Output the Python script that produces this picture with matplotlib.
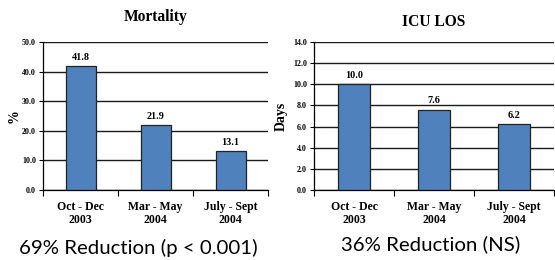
import matplotlib.pyplot as plt
import numpy as np

periods = ["Oct - Dec\n2003", "Mar - May\n2004", "July - Sept\n2004"]
mortality = [41.8, 21.9, 13.1]
icu_los = [10.0, 7.6, 6.2]
mort_ticks = [0, 10, 20, 30, 40, 50]
los_ticks = [0, 2, 4, 6, 8, 10, 12, 14]

SERIF = "Liberation Serif"
BAR_COLOR = "#4F81BD"

fig = plt.figure(figsize=(5.55, 2.6), dpi=100)


def draw_panel(rect, values, ticks, title, ylabel, caption, ylabel_x, caption_xy, title_y):
    ax = fig.add_axes(rect)
    x = np.arange(len(values))
    ax.bar(x, values, width=0.4, color=BAR_COLOR, edgecolor="#222222", linewidth=0.9, zorder=3)
    for xi, v in zip(x, values):
        ax.text(xi, v + ticks[-1] * 0.03, f"{v:.1f}", ha="center", va="bottom",
                fontsize=7.3, fontweight="bold", family=SERIF)
    ax.set_xlim(-0.5, len(values) - 0.5)
    ax.set_ylim(0, ticks[-1])
    ax.set_yticks(ticks)
    ax.set_yticklabels([f"{t:.1f}" for t in ticks], fontsize=5.8, fontweight="bold", family=SERIF)
    ax.yaxis.grid(True, color="#1a1a1a", linewidth=1.0, zorder=0)
    ax.tick_params(axis="y", length=3, width=0.8, pad=2)
    # category labels centred, separator ticks at boundaries
    ax.set_xticks(x)
    ax.set_xticklabels(periods, fontsize=8.5, fontweight="bold", family=SERIF, linespacing=1.15)
    ax.tick_params(axis="x", length=0, pad=8)
    ax.set_xticks(np.arange(len(values) + 1) - 0.5, minor=True)
    ax.tick_params(axis="x", which="minor", length=4, width=0.8)
    for s in ["top", "right"]:
        ax.spines[s].set_visible(False)
    ax.spines["left"].set_linewidth(0.9)
    ax.spines["bottom"].set_linewidth(0.9)
    fig.text(rect[0] + rect[2] / 2, title_y, title, ha="center", va="center",
             fontsize=11.2, fontweight="bold", family=SERIF)
    fig.text(ylabel_x, rect[1] + rect[3] / 2, ylabel, ha="center", va="center", rotation=90,
             fontsize=10, fontweight="bold", family=SERIF)
    fig.text(caption_xy[0], caption_xy[1], caption, ha="center", va="center",
             fontsize=14.7, family="Lato")
    return ax


draw_panel([43 / 555, 70 / 260, 225 / 555, 148 / 260], mortality, mort_ticks,
           "Mortality", "%", "69% Reduction (p < 0.001)",
           14 / 555, (138 / 555, 1 - 248 / 260), 1 - 17 / 260)
draw_panel([314 / 555, 70 / 260, 240 / 555, 148 / 260], icu_los, los_ticks,
           "ICU LOS", "Days", "36% Reduction (NS)",
           281 / 555, (431 / 555, 1 - 244 / 260), 1 - 22 / 260)

plt.savefig("out.png", dpi=100)
